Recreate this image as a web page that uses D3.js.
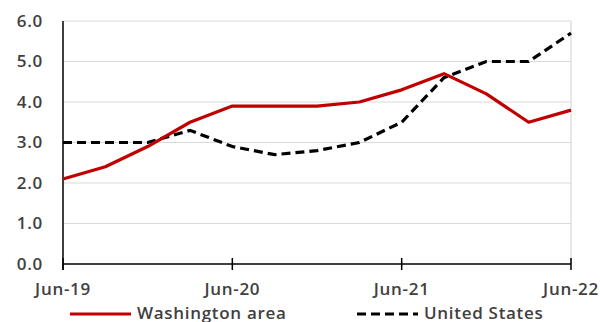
<!DOCTYPE html>
<html>
<head>
<meta charset="utf-8">
<script src="https://cdn.jsdelivr.net/npm/d3@7"></script>
<style>
  html, body { margin: 0; padding: 0; background: #fff; }
  svg text { font-family: "Open Sans", "Noto Sans", sans-serif; fill: #404040; letter-spacing: 0.7px; }
</style>
</head>
<body>
<svg id="chart" width="600" height="322"></svg>
<script>
// Quarterly periods, Jun-19 through Jun-22
const periods = ["Jun-19","Sep-19","Dec-19","Mar-20","Jun-20","Sep-20","Dec-20","Mar-21","Jun-21","Sep-21","Dec-21","Mar-22","Jun-22"];
const washington = [2.1, 2.4, 2.9, 3.5, 3.9, 3.9, 3.9, 4.0, 4.3, 4.7, 4.2, 3.5, 3.8];
const unitedStates = [3.0, 3.0, 3.0, 3.3, 2.9, 2.7, 2.8, 3.0, 3.5, 4.6, 5.0, 5.0, 5.7];
const xTickLabels = ["Jun-19","Jun-20","Jun-21","Jun-22"];
const yTicks = [0, 1, 2, 3, 4, 5, 6];
const seriesNames = ["Washington area", "United States"];

const svg = d3.select("#chart");
const m = { left: 63, right: 29, top: 21, bottom: 58 };
const W = 600, H = 322;
const fontSize = 17;

const x = d3.scalePoint().domain(periods).range([m.left, W - m.right]);
const y = d3.scaleLinear().domain([0, 6]).range([H - m.bottom, m.top]);

// horizontal gridlines
svg.append("g")
  .selectAll("line")
  .data(yTicks.filter(d => d > 0))
  .join("line")
  .attr("x1", m.left).attr("x2", W - m.right)
  .attr("y1", d => y(d)).attr("y2", d => y(d))
  .attr("stroke", "#d9d9d9").attr("stroke-width", 1.2);

// right border of plot area
svg.append("line")
  .attr("x1", W - m.right).attr("x2", W - m.right)
  .attr("y1", y(6)).attr("y2", y(0))
  .attr("stroke", "#d9d9d9").attr("stroke-width", 1.2);

// y axis
const yAxis = d3.axisLeft(y).tickValues(yTicks).tickFormat(d3.format(".1f")).tickSize(0).tickPadding(20);
const gy = svg.append("g").attr("transform", `translate(${m.left},0)`).call(yAxis);
gy.select(".domain").remove();
gy.selectAll("text")
  .attr("font-size", fontSize).attr("font-weight", 600).attr("fill", "#404040")
  .attr("font-family", null);

svg.append("line")
  .attr("x1", m.left).attr("x2", m.left)
  .attr("y1", y(6)).attr("y2", y(0) + 6)
  .attr("stroke", "#000").attr("stroke-width", 1.5);

// x axis with crossing ticks at yearly points
svg.append("line")
  .attr("x1", m.left).attr("x2", W - m.right)
  .attr("y1", y(0)).attr("y2", y(0))
  .attr("stroke", "#000").attr("stroke-width", 1.5);
svg.append("g")
  .selectAll("line")
  .data(xTickLabels)
  .join("line")
  .attr("x1", d => x(d)).attr("x2", d => x(d))
  .attr("y1", y(0) - 6).attr("y2", y(0) + 6)
  .attr("stroke", "#000").attr("stroke-width", 1.5);
svg.append("g")
  .selectAll("text")
  .data(xTickLabels)
  .join("text")
  .attr("x", d => x(d)).attr("y", y(0) + 31)
  .attr("text-anchor", "middle")
  .attr("font-size", fontSize).attr("font-weight", 600)
  .text(d => d);

// series lines
const line = d3.line().x((d, i) => x(periods[i])).y(d => y(d));

svg.append("path")
  .datum(unitedStates)
  .attr("d", line)
  .attr("fill", "none").attr("stroke", "#000")
  .attr("stroke-width", 3.2).attr("stroke-dasharray", "9,5");

svg.append("path")
  .datum(washington)
  .attr("d", line)
  .attr("fill", "none").attr("stroke", "#c00000")
  .attr("stroke-width", 3.2).attr("stroke-linejoin", "round");

// legend
const legend = [
  { name: seriesNames[0], color: "#c00000", dash: null, x: 70 },
  { name: seriesNames[1], color: "#000", dash: "9,5", x: 357 }
];
const lg = svg.append("g").selectAll("g").data(legend).join("g")
  .attr("transform", d => `translate(${d.x},314)`);
lg.append("line")
  .attr("x1", 0).attr("x2", 61).attr("y1", 0).attr("y2", 0)
  .attr("stroke", d => d.color).attr("stroke-width", 3.2)
  .attr("stroke-dasharray", d => d.dash);
lg.append("text")
  .attr("x", 67).attr("y", 5)
  .attr("font-size", fontSize).attr("font-weight", 600)
  .text(d => d.name);
</script>
</body>
</html>
